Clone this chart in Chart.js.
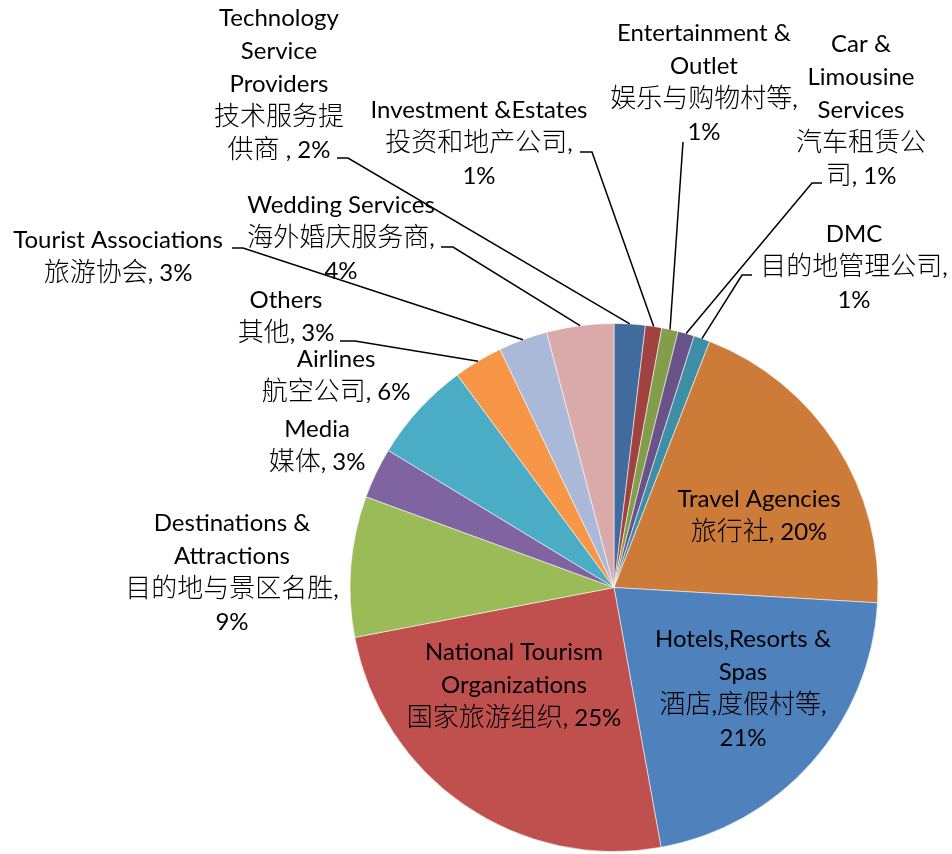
<!DOCTYPE html>
<html>
<head>
<meta charset="utf-8">
<script src="https://cdn.jsdelivr.net/npm/chart.js@4.4.0/dist/chart.umd.min.js"></script>
<style>
  html, body { margin: 0; padding: 0; background: #fff; }
  canvas { display: block; }
</style>
</head>
<body>
<canvas id="pie" width="952" height="854"></canvas>
<script>
// category names, already wrapped the way the labels show them
const categories = [
  ["Technology", "Service", "Providers", "技术服务提", "供商 "],
  ["Investment &Estates", "投资和地产公司"],
  ["Entertainment &", "Outlet", "娱乐与购物村等"],
  ["Car &", "Limousine", "Services", "汽车租赁公", "司"],
  ["DMC", "目的地管理公司"],
  ["Travel Agencies", "旅行社"],
  ["Hotels,Resorts &", "Spas", "酒店,度假村等"],
  ["National Tourism", "Organizations", "国家旅游组织"],
  ["Destinations &", "Attractions", "目的地与景区名胜"],
  ["Media", "媒体"],
  ["Airlines", "航空公司"],
  ["Others", "其他"],
  ["Tourist Associations", "旅游协会"],
  ["Wedding Services", "海外婚庆服务商"]
];
const values = [1.9, 1.0, 1.0, 1.0, 1.0, 20.0, 21.2, 24.8, 8.6, 3.1, 6.2, 3.0, 3.0, 4.1];
const colors = [
  "#426B9D", "#A04240", "#829E4B", "#6A5388", "#3E8FA5", "#CD7B38",
  "#4F81BD", "#C0504D", "#9BBB59", "#8064A2", "#4BACC6", "#F79646",
  "#AAB9D7", "#D9AAA9"
];

// label placement: centre x, first baseline, percent on its own line, leader [x, y, tick]
const labelLayout = [
  { x: 279, y: 26,  brk: false, lead: [337, 158, 11] },
  { x: 479, y: 118, brk: true,  lead: [580, 152, 12] },
  { x: 704, y: 41,  brk: true,  lead: [683, 142, 0] },
  { x: 861, y: 52,  brk: false, lead: [822, 183, -10] },
  { x: 854, y: 242, brk: true,  lead: [752, 275, -10] },
  { x: 759, y: 507, brk: false, lead: null },
  { x: 743, y: 647, brk: true,  lead: null },
  { x: 514, y: 660, brk: false, lead: null },
  { x: 232, y: 531, brk: true,  lead: null },
  { x: 317, y: 437, brk: false, lead: null },
  { x: 336, y: 367, brk: false, lead: null },
  { x: 286, y: 308, brk: false, lead: [340, 341, 15] },
  { x: 118, y: 248, brk: false, lead: [232, 248, 11] },
  { x: 341, y: 213, brk: true,  lead: [441, 247, 12] }
];

const LINE_H = 33;
const latinFont = "24px Lato, 'Noto Sans', sans-serif";
const cjkFont = "300 26px 'Noto Sans CJK SC', sans-serif";
const cjkRe = /[\u2E80-\u9FFF\uF900-\uFAFF\u3000-\u303F\uFF00-\uFFEF]/;

function splitRuns(str) {
  const runs = [];
  for (const ch of str) {
    const cjk = cjkRe.test(ch);
    if (runs.length && runs[runs.length - 1].cjk === cjk) runs[runs.length - 1].t += ch;
    else runs.push({ t: ch, cjk: cjk });
  }
  return runs;
}

function drawLine(ctx, str, cx, y) {
  const runs = splitRuns(str);
  let total = 0;
  runs.forEach(r => {
    ctx.font = r.cjk ? cjkFont : latinFont;
    r.w = ctx.measureText(r.t).width;
    total += r.w;
  });
  let x = cx - total / 2;
  runs.forEach(r => {
    ctx.font = r.cjk ? cjkFont : latinFont;
    ctx.fillText(r.t, x, y);
    x += r.w;
  });
}

const total = values.reduce((a, b) => a + b, 0);

const sliceLabels = {
  id: "sliceLabels",
  afterDatasetsDraw(chart) {
    const ctx = chart.ctx;
    const arcs = chart.getDatasetMeta(0).data;
    ctx.save();
    ctx.fillStyle = "#000";
    ctx.textAlign = "left";
    ctx.textBaseline = "alphabetic";
    ctx.strokeStyle = "#000";
    ctx.lineWidth = 1.5;

    arcs.forEach((arc, i) => {
      const lay = labelLayout[i];
      const pct = Math.round(values[i] / total * 100) + "%";
      const lines = categories[i].slice();
      if (lay.brk) {
        lines[lines.length - 1] += ",";
        lines.push(pct);
      } else {
        lines[lines.length - 1] += ", " + pct;
      }
      lines.forEach((ln, k) => drawLine(ctx, ln, lay.x, lay.y + k * LINE_H));

      if (lay.lead) {
        const p = arc.getProps(["x", "y", "startAngle", "endAngle", "outerRadius"], true);
        const mid = (p.startAngle + p.endAngle) / 2;
        const ex = p.x + Math.cos(mid) * p.outerRadius;
        const ey = p.y + Math.sin(mid) * p.outerRadius;
        const [lx, ly, tick] = lay.lead;
        ctx.beginPath();
        ctx.moveTo(lx, ly);
        ctx.lineTo(lx + tick, ly);
        ctx.lineTo(ex, ey);
        ctx.stroke();
      }
    });
    ctx.restore();
  }
};

new Chart(document.getElementById("pie"), {
  type: "pie",
  data: {
    labels: categories.map(c => c.join(" ")),
    datasets: [{
      data: values,
      backgroundColor: colors,
      borderColor: "rgba(255,255,255,0.55)",
      borderWidth: 1,
      hoverOffset: 0,
      offset: 0
    }]
  },
  options: {
    responsive: false,
    animation: false,
    events: [],
    layout: { padding: { left: 349, right: 73, top: 323, bottom: 2 } },
    plugins: {
      legend: { display: false },
      tooltip: { enabled: false }
    }
  },
  plugins: [sliceLabels]
});
</script>
</body>
</html>
